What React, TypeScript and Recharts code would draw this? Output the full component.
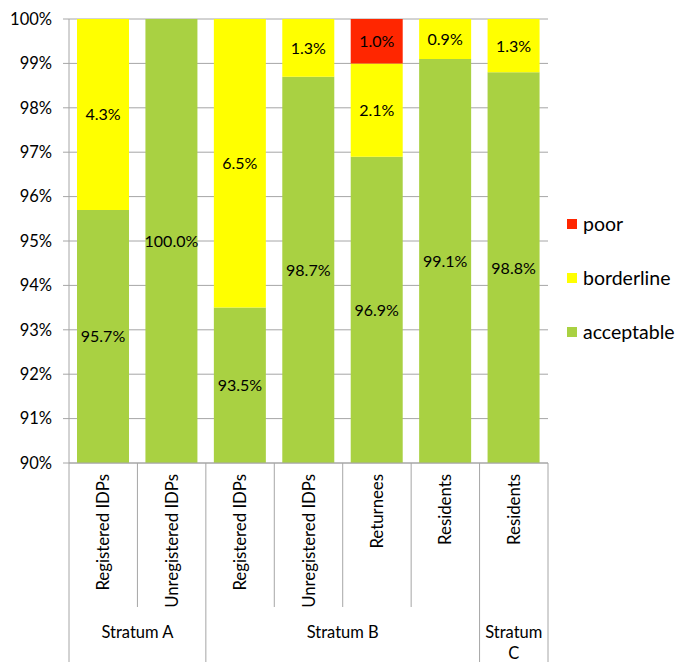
import { BarChart, Bar, XAxis, YAxis, CartesianGrid, Legend, LabelList } from "recharts";

const categories = [
  "Registered IDPs",
  "Unregistered IDPs",
  "Registered IDPs",
  "Unregistered IDPs",
  "Returnees",
  "Residents",
  "Residents",
];
const strata = ["Stratum A", "Stratum A", "Stratum B", "Stratum B", "Stratum B", "Stratum B", "Stratum C"];
const acceptable = [95.7, 100.0, 93.5, 98.7, 96.9, 99.1, 98.8];
const borderline = [4.3, 0, 6.5, 1.3, 2.1, 0.9, 1.3];
const poor = [0, 0, 0, 0, 1.0, 0, 0];
const yTicks = [90, 91, 92, 93, 94, 95, 96, 97, 98, 99, 100];

const series = [
  { key: "acceptable", name: "acceptable", color: "#A9D142" },
  { key: "borderline", name: "borderline", color: "#FFFF00" },
  { key: "poor", name: "poor", color: "#FF2600" },
];

const data = categories.map((c, i) => ({
  id: `c${i}`,
  label: c,
  stratum: strata[i],
  acceptable: acceptable[i],
  borderline: borderline[i],
  poor: poor[i],
}));

const W = 680;
const H = 666;
const PLOT_LEFT = 69;
const PLOT_RIGHT = 548;
const PLOT_TOP = 19;
const PLOT_BOTTOM = 463;
const STEP = (PLOT_RIGHT - PLOT_LEFT) / categories.length;
const ROW1 = 607;
const ROW2 = 662;
const FONT = "Lato, 'Open Sans', sans-serif";
const LINE = "#a6a6a6";

function CategoryTick(props: any) {
  const { x, index } = props;
  const d = data[index];
  const left = x - STEP / 2;
  const firstInGroup = index === 0 || strata[index - 1] !== d.stratum;
  const isLast = index === data.length - 1;
  const groupCount = strata.filter((s) => s === d.stratum).length;
  const groupCenter = left + (groupCount * STEP) / 2;
  const lines = groupCount === 1 ? d.stratum.split(" ") : [d.stratum];
  return (
    <g>
      <line x1={left} x2={left} y1={PLOT_BOTTOM} y2={firstInGroup ? ROW2 : ROW1} stroke={LINE} />
      {isLast && <line x1={left + STEP} x2={left + STEP} y1={PLOT_BOTTOM} y2={ROW2} stroke={LINE} />}
      <text
        transform={`translate(${x + 6},${PLOT_BOTTOM + 11}) rotate(-90)`}
        textAnchor="end"
        fontSize={16.8}
        fontFamily={FONT}
        fill="#000"
      >
        {d.label}
      </text>
      {firstInGroup &&
        lines.map((l, k) => (
          <text
            key={k}
            x={groupCenter}
            y={638 + k * 21}
            textAnchor="middle"
            fontSize={16.5}
            fontFamily={FONT}
            fill="#000"
          >
            {l}
          </text>
        ))}
    </g>
  );
}

function SegmentLabel(props: any) {
  const { x, y, width, height, value } = props;
  if (!value || height <= 0) return null;
  return (
    <text
      x={x + width / 2}
      y={y + height / 2}
      dy={6}
      textAnchor="middle"
      fontSize={16}
      fontFamily={FONT}
      fill="#000"
    >
      {`${Number(value).toFixed(1)}%`}
    </text>
  );
}

function LegendBox() {
  const items = [...series].reverse();
  return (
    <div style={{ fontFamily: FONT, fontSize: 19.5 }}>
      {items.map((s, i) => (
        <div key={s.key} style={{ position: "absolute", left: 0, top: i * 54, display: "flex", alignItems: "center" }}>
          <span style={{ width: 10, height: 10, background: s.color, display: "inline-block", marginRight: 6 }} />
          <span style={{ color: "#000", lineHeight: "20px" }}>{s.name}</span>
        </div>
      ))}
    </div>
  );
}

export default function App() {
  return (
    <div style={{ position: "absolute", left: 0, top: 0, width: W, height: H, background: "#fff" }}>
      <BarChart
        width={W}
        height={H}
        data={data}
        margin={{ top: PLOT_TOP, right: W - PLOT_RIGHT, bottom: 0, left: 0 }}
        barSize={52}
      >
        <CartesianGrid vertical={false} stroke={LINE} />
        <XAxis
          dataKey="id"
          height={H - PLOT_BOTTOM}
          stroke={LINE}
          tickLine={false}
          tick={<CategoryTick />}
          interval={0}
        />
        <YAxis
          width={PLOT_LEFT}
          domain={[90, 100]}
          ticks={yTicks}
          allowDataOverflow
          stroke={LINE}
          tickSize={6}
          tickMargin={11}
          tickFormatter={(v) => `${v}%`}
          tick={{ fontSize: 16.5, fontFamily: FONT, fill: "#000" }}
        />
        <Legend
          layout="vertical"
          align="center"
          verticalAlign="middle"
          content={() => <LegendBox />}
          wrapperStyle={{ position: "absolute", left: 567, top: 214, width: 113, height: 130 }}
        />
        {series.map((s) => (
          <Bar key={s.key} dataKey={s.key} name={s.name} stackId="a" fill={s.color} isAnimationActive={false}>
            <LabelList dataKey={s.key} content={<SegmentLabel />} />
          </Bar>
        ))}
      </BarChart>
    </div>
  );
}
